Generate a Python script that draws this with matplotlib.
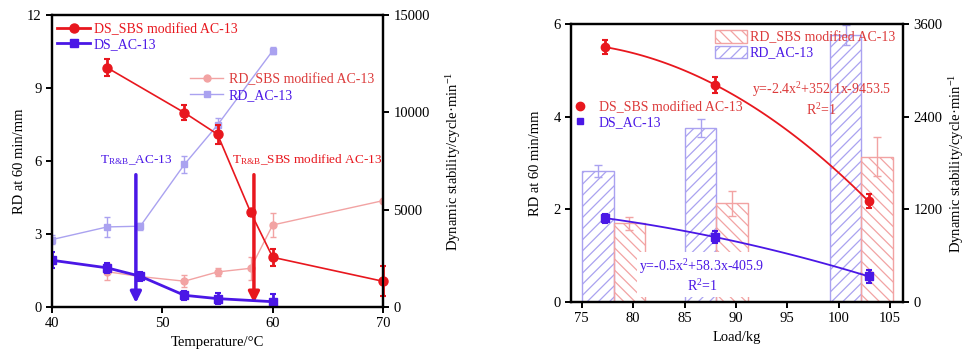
import numpy as np
import matplotlib.pyplot as plt

plt.rcParams['font.family'] = 'Liberation Serif'
plt.rcParams['mathtext.fontset'] = 'custom'
plt.rcParams['mathtext.rm'] = 'Liberation Serif'
plt.rcParams['mathtext.it'] = 'Liberation Serif:italic'
plt.rcParams['font.size'] = 10
plt.rcParams['hatch.linewidth'] = 0.9

RED = '#e8171e'
BLUE = '#4a17e6'
LRED = '#f2a3a3'
LBLUE = '#aaa2f0'

# temperature sweep (RD in mm, DS in cycle/min)
temp_rd_sbs = [45, 48, 52, 55, 58, 60, 70]
rd_sbs = [1.45, 1.25, 1.06, 1.44, 1.59, 3.37, 4.37]
rd_sbs_err = [0.35, 0.1, 0.25, 0.15, 0.47, 0.5, 0.0]
temp_rd_ac = [40, 45, 48, 52, 55, 60]
rd_ac = [2.77, 3.29, 3.32, 5.86, 7.48, 10.53]
rd_ac_err = [0.2, 0.4, 0.15, 0.35, 0.3, 0.15]
temp_ds_sbs = [45, 52, 55, 58, 60, 70]
ds_sbs = [12290, 9980, 8870, 4865, 2553, 1320]
ds_sbs_err = [430, 380, 480, 190, 445, 770]
temp_ds_ac = [40, 45, 48, 52, 55, 60]
ds_ac = [2400, 2010, 1580, 600, 430, 272]
ds_ac_err = [400, 250, 230, 230, 280, 380]
t_rb_ac = 47.6
t_rb_sbs = 58.3

# load sweep
load_bar = [78.1, 88.1, 102.2]
rd_ac_load = [2.82, 3.76, 5.76]
rd_ac_load_err = [0.13, 0.2, 0.22]
rd_sbs_load = [1.70, 2.13, 3.14]
rd_sbs_load_err = [0.14, 0.27, 0.42]
load_ds = [77.3, 88.0, 102.9]
ds_sbs_load = [3300, 2810, 1305]
ds_sbs_load_err = [90, 103, 90]
ds_ac_load = [1086, 840, 332]
ds_ac_load_err = [60, 80, 86]

TRB = r'$\mathrm{T}_{\mathrm{R&B}}$'


def style(ax):
	for s in ax.spines.values():
		s.set_linewidth(1.6)
	ax.tick_params(width=1.4, length=4, direction='out', labelsize=10.5)


fig = plt.figure(figsize=(9.67, 3.54), dpi=100)

# ---- left: temperature ----
ax1 = fig.add_axes([0.0538, 0.1328, 0.3423, 0.8249])
ax1b = ax1.twinx()

ax1.errorbar(temp_rd_sbs, rd_sbs, yerr=rd_sbs_err, color=LRED, marker='o', ms=5,
             lw=1, elinewidth=1, capsize=2)
ax1.errorbar(temp_rd_ac, rd_ac, yerr=rd_ac_err, color=LBLUE, marker='s', ms=4,
             lw=1, elinewidth=1, capsize=2)

ax1.annotate('', xy=(t_rb_ac, 0.05), xytext=(t_rb_ac, 5.55),
             arrowprops=dict(arrowstyle='-|>', color=BLUE, lw=2.5, mutation_scale=16))
ax1.annotate('', xy=(t_rb_sbs, 0.05), xytext=(t_rb_sbs, 5.55),
             arrowprops=dict(arrowstyle='-|>', color=RED, lw=2.5, mutation_scale=16))
ax1.text(t_rb_ac, 5.75, TRB + '_AC-13', color=BLUE, ha='center', va='bottom', fontsize=9.5)
ax1.text(56.3, 5.75, TRB + '_SBS modified AC-13', color=RED, ha='left', va='bottom', fontsize=9.5)

ax1b.errorbar(temp_ds_sbs, ds_sbs, yerr=ds_sbs_err, color=RED, marker='o', ms=6.5,
              lw=1.2, elinewidth=2, capsize=2.5, capthick=1.5, clip_on=False)
ax1b.errorbar(temp_ds_ac, ds_ac, yerr=ds_ac_err, color=BLUE, marker='s', ms=6,
              lw=2, elinewidth=2, capsize=2.5, capthick=1.5)

ax1.set_xlim(40, 70)
ax1.set_ylim(0, 12)
ax1.set_yticks([0, 3, 6, 9, 12])
ax1.set_xticks([40, 50, 60, 70])
ax1b.set_ylim(0, 15000)
ax1b.set_yticks([0, 5000, 10000, 15000])
ax1.set_xlabel('Temperature/°C', fontsize=10.5)
ax1.set_ylabel('RD at 60 min/mm', fontsize=10.5, labelpad=1)
ax1b.set_ylabel('Dynamic stability/cycle·min$^{-1}$', fontsize=10.5, labelpad=10)
style(ax1)
style(ax1b)

h_ds = [plt.Line2D([], [], color=RED, marker='o', ms=6.5, lw=2),
        plt.Line2D([], [], color=BLUE, marker='s', ms=6, lw=2)]
leg = ax1b.legend(h_ds, ['DS_SBS modified AC-13', 'DS_AC-13'], loc='center left',
                  bbox_to_anchor=(0.015, 0.925), frameon=False, borderpad=0,
                  borderaxespad=0, handlelength=2.4, handletextpad=0.25, labelspacing=0.15)
for t, c in zip(leg.get_texts(), [RED, BLUE]):
	t.set_color(c)
ax1b.add_artist(leg)
h_rd = [plt.Line2D([], [], color=LRED, marker='o', ms=5, lw=1),
        plt.Line2D([], [], color=LBLUE, marker='s', ms=4, lw=1)]
leg = ax1b.legend(h_rd, ['RD_SBS modified AC-13', 'RD_AC-13'], loc='center left',
                  bbox_to_anchor=(0.417, 0.752), frameon=False, borderpad=0,
                  borderaxespad=0, handlelength=2.4, handletextpad=0.4, labelspacing=0.2)
for t, c in zip(leg.get_texts(), ['#dc3a3a', BLUE]):
	t.set_color(c)

# ---- right: load ----
ax2 = fig.add_axes([0.5905, 0.1469, 0.3433, 0.7853])
ax2b = ax2.twinx()

w = 3.05
xb = np.array(load_bar)
ax2.bar(xb - w / 2, rd_ac_load, w, facecolor='none', edgecolor=LBLUE, hatch='///', lw=1,
        yerr=rd_ac_load_err, error_kw=dict(ecolor=LBLUE, capsize=3, elinewidth=1))
ax2.bar(xb + w / 2, rd_sbs_load, w, facecolor='none', edgecolor=LRED, hatch='\\\\\\', lw=1,
        yerr=rd_sbs_load_err, error_kw=dict(ecolor=LRED, capsize=3, elinewidth=1))

ax2.text(86.7, 0.57, 'y=-0.5x$^{2}$+58.3x-405.9\nR$^{2}$=1', color=BLUE, ha='center',
         va='center', multialignment='center', zorder=5,
         bbox=dict(facecolor='white', edgecolor='none', pad=2))
ax2.text(98.35, 4.38, 'y=-2.4x$^{2}$+352.1x-9453.5\nR$^{2}$=1', color='#dc3a3a', ha='center',
         va='center', multialignment='center', zorder=5)

xs = np.linspace(load_ds[0], load_ds[-1], 100)
ax2b.plot(xs, np.polyval(np.polyfit(load_ds, ds_sbs_load, 2), xs), color=RED, lw=1.3)
ax2b.plot(xs, np.polyval(np.polyfit(load_ds, ds_ac_load, 2), xs), color=BLUE, lw=1.3)
ax2b.errorbar(load_ds, ds_sbs_load, yerr=ds_sbs_load_err, fmt='o', color=RED, ms=6,
              elinewidth=2, capsize=2.5, capthick=1.5)
ax2b.errorbar(load_ds, ds_ac_load, yerr=ds_ac_load_err, fmt='s', color=BLUE, ms=5.5,
              elinewidth=2, capsize=2.5, capthick=1.5)

ax2.set_xlim(73.95, 106.25)
ax2.set_xticks([75, 80, 85, 90, 95, 100, 105])
ax2.set_ylim(0, 6)
ax2.set_yticks([0, 2, 4, 6])
ax2b.set_ylim(0, 3600)
ax2b.set_yticks([0, 1200, 2400, 3600])
ax2.set_xlabel('Load/kg', fontsize=10.5)
ax2.set_ylabel('RD at 60 min/mm', fontsize=10.5, labelpad=8)
ax2b.set_ylabel('Dynamic stability/cycle·min$^{-1}$', fontsize=10.5, labelpad=3)
style(ax2)
style(ax2b)

h_ds2 = [plt.Line2D([], [], color=RED, marker='o', ms=6, lw=0),
         plt.Line2D([], [], color=BLUE, marker='s', ms=5, lw=0)]
leg = ax2b.legend(h_ds2, ['DS_SBS modified AC-13', 'DS_AC-13'], loc='center left',
                  bbox_to_anchor=(0.0, 0.672), frameon=False, borderpad=0,
                  borderaxespad=0, handlelength=1.3, handletextpad=0.7, labelspacing=0.15)
for t, c in zip(leg.get_texts(), ['#dc3a3a', BLUE]):
	t.set_color(c)
ax2b.add_artist(leg)
h_bar = [plt.Rectangle((0, 0), 1, 1, facecolor='none', edgecolor=LRED, hatch='\\\\\\'),
         plt.Rectangle((0, 0), 1, 1, facecolor='none', edgecolor=LBLUE, hatch='///')]
leg = ax2b.legend(h_bar, ['RD_SBS modified AC-13', 'RD_AC-13'], loc='center left',
                  bbox_to_anchor=(0.434, 0.925), frameon=False, borderpad=0,
                  borderaxespad=0, handlelength=2.3, handleheight=1.0,
                  handletextpad=0.2, labelspacing=0.1)
for t, c in zip(leg.get_texts(), ['#dc3a3a', BLUE]):
	t.set_color(c)

fig.savefig('out.png', dpi=100)
